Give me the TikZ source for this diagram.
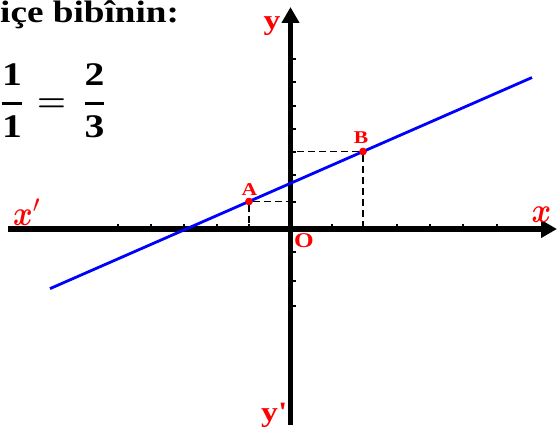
\RequirePackage{fix-cm}
\documentclass[tikz,border=0pt]{standalone}
\usepackage{fontspec}
\usepackage{bm}
\setmainfont{Liberation Serif}[FakeStretch=1.2]
\usetikzlibrary{arrows.meta}
\begin{document}
\begin{tikzpicture}[>={Triangle[length=16pt,width=17pt]},x=1pt,y=1pt,
	axis/.style={->,line width=5.5pt},
	tick/.style={line width=2pt},
	proj/.style={line width=1.3pt,dash pattern=on 7pt off 4pt},
	pt/.style={circle,fill=red,inner sep=0pt,minimum size=7.5pt},
	lbl/.style={red,inner sep=0pt,font=\bfseries\fontsize{#1}{#1}\selectfont},
	bigtext/.style={inner sep=0pt,anchor=base,font=\bfseries\fontsize{33}{33}\selectfont},
	xname/.style={red,inner sep=0pt,anchor=base west,font=\fontsize{35}{35}\selectfont}]
	\useasboundingbox (-290.5,-200) rectangle (266.5,229);
	\node[anchor=base west,inner sep=0pt,font=\bfseries\fontsize{31}{31}\selectfont] (title) at (-290.5,206) {içe bibînin:};
	\node[bigtext] (fracL) at (-278.5,117.75) {$\displaystyle{\textbf{1}\vrule depth 7.5pt width 0pt\above 3pt\vrule height 24pt width 0pt\textbf{1}}$};
	\node[bigtext] (eq) at (-239,117.75) {$\bm{=}$};
	\node[bigtext] (fracR) at (-196,117.75) {$\displaystyle{\textbf{2}\vrule depth 7.5pt width 0pt\above 3pt\vrule height 24pt width 0pt\textbf{3}}$};
	\coordinate (O) at (0,0);
	\coordinate (xl) at (-282.5,0);
	\coordinate (xr) at (266.5,0);
	\coordinate (yb) at (0,-196);
	\coordinate (yt) at (0,222);
	\draw[axis] (xl)--(xr); %Ox
	\draw[axis] (yb)--(yt); %Oy
	\foreach \x in {-172.5,-139.5,-106.5,-73.5,-41.5,41.5,72.5,106.5,139.5,172.5,206.5}{\draw[tick] (\x,0)--(\x,5.5);}%Ox
	\foreach \y in {-77,-52,-23,27.5,54,77.5,100,123,147,170}{\draw[tick] (0,\y)--(5.5,\y);}%Oy
	\node[pt] (A) at (-41.5,27.5) {};
	\node[pt] (B) at (72.5,77.5) {};
	\draw[proj] (A)--(A-|O); %A
	\draw[proj] (A)--(A|-O);
	\draw[proj] (B)--(B-|O); %B
	\draw[proj] (B)--(B|-O);
	\draw [blue, line width = 2.8pt]%
	plot[domain=-240.5:241.5, samples=2] (\x, {0.438*\x+45.7});
	\node[pt] at (A) {};
	\node[pt] at (B) {};
	\node[lbl=18] (Alab) at (-41,39.5) {A};
	\node[lbl=18] (Blab) at (70.5,91) {B};
	\node[lbl=21] (Olab) at (13.5,-12) {O};
	\node[lbl=28,anchor=base] (ylab) at (-18.5,200) {y};
	\node[lbl=28,anchor=base] (yplab) at (-17,-192) {y\textquotesingle};
	\node[xname] (xlab) at (241,7) {\scalebox{.85}[1]{$\bm{x}$}};
	\node[xname] (xplab) at (-277.5,4) {\scalebox{.85}[1]{$\bm{x}$}$'$};
\end{tikzpicture}
\end{document}
